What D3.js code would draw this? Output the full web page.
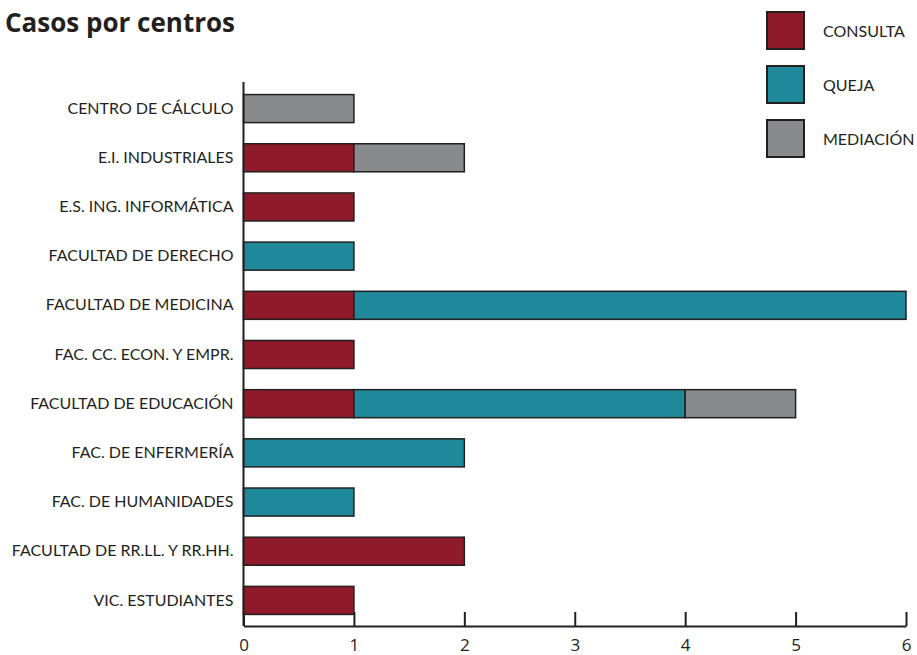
<!DOCTYPE html>
<html>
<head>
<meta charset="utf-8">
<script src="https://cdn.jsdelivr.net/npm/d3@7"></script>
<style>
  body { margin: 0; background: #fff; }
  svg { display: block; }
</style>
</head>
<body>
<div id="chart"></div>
<script>
// DATA
let CENTROS = ["CENTRO DE CÁLCULO", "E.I. INDUSTRIALES", "E.S. ING. INFORMÁTICA", "FACULTAD DE DERECHO",
    "FACULTAD DE MEDICINA", "FAC. CC. ECON. Y EMPR.", "FACULTAD DE EDUCACIÓN", "FAC. DE ENFERMERÍA",
    "FAC. DE HUMANIDADES", "FACULTAD DE RR.LL. Y RR.HH.", "VIC. ESTUDIANTES"]
let CONSULTA = [0, 1, 1, 0, 1, 1, 1, 0, 0, 2, 1]
let QUEJA = [0, 0, 0, 1, 5, 0, 3, 2, 1, 0, 0]
let MEDIACION = [1, 1, 0, 0, 0, 0, 1, 0, 0, 0, 0]
let TIPOS = ["CONSULTA", "QUEJA", "MEDIACIÓN"]
let X_TICKS = [0, 1, 2, 3, 4, 5, 6]

let width = 917, height = 655
let labelFont = "Lato, 'Open Sans', sans-serif"

let svg = d3.select("#chart").append("svg")
    .attr("width", width)
    .attr("height", height)

// rows for the stack
let rows = CENTROS.map(function (c, i) {
    return { centro: c, "CONSULTA": CONSULTA[i], "QUEJA": QUEJA[i], "MEDIACIÓN": MEDIACION[i] }
})
let series = d3.stack().keys(TIPOS)(rows)

let myColor = d3.scaleOrdinal()
    .domain(TIPOS)
    .range(["#8e1a2a", "#1f889a", "#898a8c"])

let x = d3.scaleLinear().domain([0, 6]).range([243.5, 906])
let y = d3.scaleBand().domain(CENTROS).range([84, 625]).paddingInner(0.43).paddingOuter(0.215)

// title
svg.append("text")
    .attr("x", 5)
    .attr("y", 32)
    .text("Casos por centros")
    .style("font-family", "'Open Sans', sans-serif")
    .style("font-weight", "bold")
    .style("font-size", "26px")
    .style("fill", "#231f20")

// bars
svg.append("g").selectAll("g")
    .data(series)
    .enter()
    .append("g")
    .attr("fill", function (d) { return myColor(d.key) })
    .selectAll("rect")
    .data(function (d) { return d.filter(function (v) { return v[1] > v[0] }) })
    .enter()
    .append("rect")
    .attr("x", function (d) { return x(d[0]) })
    .attr("y", function (d) { return y(d.data.centro) })
    .attr("width", function (d) { return x(d[1]) - x(d[0]) })
    .attr("height", y.bandwidth())
    .attr("stroke", "#231f20")
    .attr("stroke-width", 1.5)

// y axis
let yAxis = svg.append("g")
    .attr("transform", "translate(" + x(0) + ",0)")
    .call(d3.axisLeft(y).tickSize(0).tickPadding(10))
yAxis.select(".domain").remove()
yAxis.append("line")
    .attr("x1", 0).attr("x2", 0)
    .attr("y1", 82).attr("y2", 626)
    .attr("stroke", "#231f20").attr("stroke-width", 2)
yAxis.selectAll("text")
    .style("font-family", labelFont)
    .style("font-size", "16px")
    .style("fill", "#231f20")

// x axis (ticks point upwards)
let xAxis = svg.append("g")
    .attr("transform", "translate(0,626)")
    .call(d3.axisTop(x).tickValues(X_TICKS).tickSize(14).tickSizeOuter(0).tickFormat(d3.format("d")))
xAxis.select(".domain").attr("stroke", "#231f20").attr("stroke-width", 2)
xAxis.selectAll(".tick line").attr("stroke", "#231f20").attr("stroke-width", 2)
xAxis.selectAll("text")
    .attr("y", 25)
    .attr("dy", 0)
    .style("font-family", "'Open Sans', sans-serif")
    .style("font-size", "17px")
    .style("fill", "#231f20")

// legend
let legend = svg.append("g").selectAll("g")
    .data(TIPOS)
    .enter()
    .append("g")
    .attr("transform", function (d, i) { return "translate(767," + (12 + i * 54) + ")" })
legend.append("rect")
    .attr("width", 37)
    .attr("height", 37)
    .attr("fill", function (d) { return myColor(d) })
    .attr("stroke", "#231f20")
    .attr("stroke-width", 2)
legend.append("text")
    .attr("x", 56)
    .attr("y", 19)
    .attr("dy", "0.35em")
    .text(function (d) { return d })
    .style("font-family", labelFont)
    .style("font-size", "16px")
    .style("fill", "#231f20")
</script>
</body>
</html>
